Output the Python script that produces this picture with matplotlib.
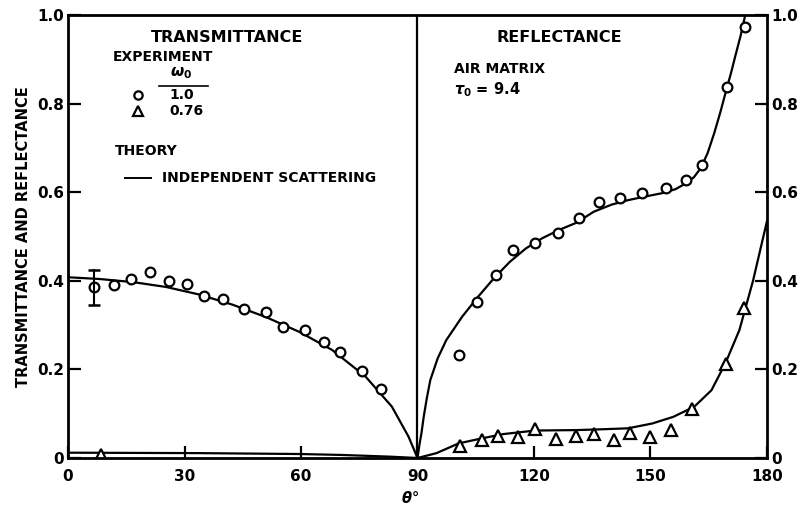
import matplotlib
matplotlib.use("Agg")
import matplotlib.pyplot as plt

# ---- data ----
# Transmittance, omega0 = 1.0 (circles)
t_circ_x = [6.7, 11.9, 16.3, 21.0, 26.0, 30.6, 35.1, 39.8, 45.2, 51.0, 55.4, 61.0, 66.0, 70.1, 75.7, 80.7]
t_circ_y = [0.385, 0.39, 0.405, 0.42, 0.40, 0.393, 0.365, 0.36, 0.337, 0.33, 0.296, 0.29, 0.262, 0.24, 0.197, 0.156]
t_err_x = 6.7
t_err_lo = 0.345
t_err_hi = 0.425
# Transmittance, omega0 = 0.76 (triangles)
t_tri_x = [8.6]
t_tri_y = [0.006]
# Transmittance theory curves
t_th1_x = [0, 8.2, 16.8, 25.3, 33.8, 42.4, 51.0, 59.5, 68.0, 76.6, 83.4, 87.7, 90]
t_th1_y = [0.408, 0.404, 0.397, 0.386, 0.369, 0.346, 0.318, 0.285, 0.244, 0.184, 0.116, 0.048, 0.0]
t_th2_x = [0, 33.8, 59.5, 70.0, 76.6, 83.0, 90]
t_th2_y = [0.012, 0.011, 0.009, 0.007, 0.005, 0.003, 0.0]

# Reflectance, omega0 = 1.0 (circles)
r_circ_x = [100.6, 105.2, 110.1, 114.7, 120.2, 126.3, 131.7, 136.7, 142.2, 147.9, 154.0, 159.2, 163.2, 169.7, 174.3]
r_circ_y = [0.233, 0.353, 0.413, 0.47, 0.486, 0.509, 0.541, 0.579, 0.588, 0.599, 0.609, 0.627, 0.661, 0.837, 0.974]
# Reflectance, omega0 = 0.76 (triangles)
r_tri_x = [100.9, 106.5, 110.7, 116.0, 120.3, 125.6, 130.7, 135.5, 140.5, 144.8, 149.8, 155.4, 160.8, 169.4, 174.2]
r_tri_y = [0.026, 0.041, 0.05, 0.048, 0.065, 0.044, 0.05, 0.054, 0.041, 0.056, 0.047, 0.063, 0.11, 0.212, 0.339]
# Reflectance theory curves
r_th1_x = [90, 90.5, 91.0, 91.6, 92.4, 93.3, 95.2, 97.4, 101.5, 105.6, 109.7, 113.8, 117.9, 122.1, 126.5, 130.9,
           135.4, 140.0, 144.2, 148.5, 153.1, 156.5, 159.3, 161.2, 162.9, 164.7, 166.4, 168.0, 169.5, 170.7, 171.8, 173.2, 174.4]
r_th1_y = [0.0, 0.03, 0.055, 0.093, 0.135, 0.176, 0.225, 0.266, 0.319, 0.364, 0.406, 0.443, 0.473, 0.496, 0.515, 0.531,
           0.556, 0.572, 0.582, 0.590, 0.598, 0.607, 0.621, 0.634, 0.654, 0.688, 0.733, 0.781, 0.83, 0.868, 0.906, 0.953, 1.0]
r_th2_x = [90, 94.9, 100.6, 106.4, 112.1, 120.3, 130.9, 138.0, 144.2, 150.5, 155.9, 161.3, 165.7, 169.3, 172.9, 176.4, 180]
r_th2_y = [0.0, 0.011, 0.033, 0.044, 0.054, 0.062, 0.063, 0.065, 0.067, 0.078, 0.093, 0.116, 0.153, 0.214, 0.289, 0.40, 0.535]

x_ticks = [0, 30, 60, 90, 120, 150, 180]
x_ticklabels = ["0", "30", "60", "90", "120", "150", "180"]
y_ticks = [0, 0.2, 0.4, 0.6, 0.8, 1.0]
y_ticklabels = ["0", "0.2", "0.4", "0.6", "0.8", "1.0"]

plt.rcParams['font.family'] = ['DejaVu Sans']
plt.rcParams['font.weight'] = 'bold'

fig = plt.figure(figsize=(8.03, 5.05), dpi=100)
ax = fig.add_axes([68/803, 1-458/505, (767-68)/803, (458-15)/505])

lw = 1.6
ms = 7
mew = 1.6
ax.plot(t_th1_x, t_th1_y, color='black', lw=lw)
ax.plot(t_th2_x, t_th2_y, color='black', lw=lw)
ax.plot(r_th1_x, r_th1_y, color='black', lw=lw)
ax.plot(r_th2_x, r_th2_y, color='black', lw=lw)
ax.plot(t_circ_x, t_circ_y, 'o', mfc='white', mec='black', ms=ms, mew=mew)
ax.plot(r_circ_x, r_circ_y, 'o', mfc='white', mec='black', ms=ms, mew=mew)
ax.plot(t_tri_x, t_tri_y, '^', mfc='white', mec='black', ms=ms+1, mew=mew)
ax.plot(r_tri_x, r_tri_y, '^', mfc='white', mec='black', ms=ms+1, mew=mew)
ax.plot([t_err_x, t_err_x], [t_err_lo, t_err_hi], color='black', lw=1.5)
ax.plot([t_err_x, t_err_x], [t_err_lo, t_err_hi], '_', color='black', ms=9, mew=1.8)
ax.axvline(90, color='black', lw=1.6)

ax.set_xlim(0, 180)
ax.set_ylim(0, 1.0)
for s in ax.spines.values():
    s.set_linewidth(2.0)

ax.set_xticks(x_ticks)
ax.set_xticklabels(x_ticklabels, fontsize=11)
ax.set_yticks(y_ticks)
ax.set_yticklabels(y_ticklabels, fontsize=11)
ax.tick_params(axis='both', direction='in', length=9, width=1.6)
ax.tick_params(axis='y', left=True, right=True, labelleft=True, labelright=True, pad=3)
ax.tick_params(axis='x', top=False, pad=8)

ax.set_ylabel("TRANSMITTANCE AND REFLECTANCE", fontsize=10.5, fontweight='bold', labelpad=4)
ax.text(88, -0.09, r"$\theta$°", fontsize=10.5, ha='center', va='center', fontweight='bold')

tk = dict(fontsize=10, fontweight='bold', color='black')
ax.text(41, 0.95, "TRANSMITTANCE", ha='center', va='center', fontsize=11.5, fontweight='bold')
ax.text(11.6, 0.905, "EXPERIMENT", ha='left', va='center', **tk)
ax.text(29.2, 0.868, r"$\omega_0$", ha='center', va='center', fontsize=11)
ax.plot([23.5, 36], [0.84, 0.84], color='black', lw=1.2)
ax.plot([18], [0.82], 'o', mfc='white', mec='black', ms=6, mew=1.6)
ax.text(29.4, 0.82, "1.0", ha='center', va='center', **tk)
ax.plot([18], [0.783], '^', mfc='white', mec='black', ms=7, mew=1.6)
ax.text(26, 0.783, "0.76", ha='left', va='center', **tk)
ax.text(12, 0.693, "THEORY", ha='left', va='center', **tk)
ax.plot([14.6, 21.5], [0.632, 0.632], color='black', lw=1.4)
ax.text(24.1, 0.632, "INDEPENDENT SCATTERING", ha='left', va='center', **tk)

ax.text(126.4, 0.95, "REFLECTANCE", ha='center', va='center', fontsize=11.5, fontweight='bold')
ax.text(99.3, 0.878, "AIR MATRIX", ha='left', va='center', **tk)
ax.text(99.3, 0.831, r"$\tau_0$ = 9.4", ha='left', va='center', fontsize=10.5, fontweight='bold')

fig.savefig("out.png", dpi=100)
